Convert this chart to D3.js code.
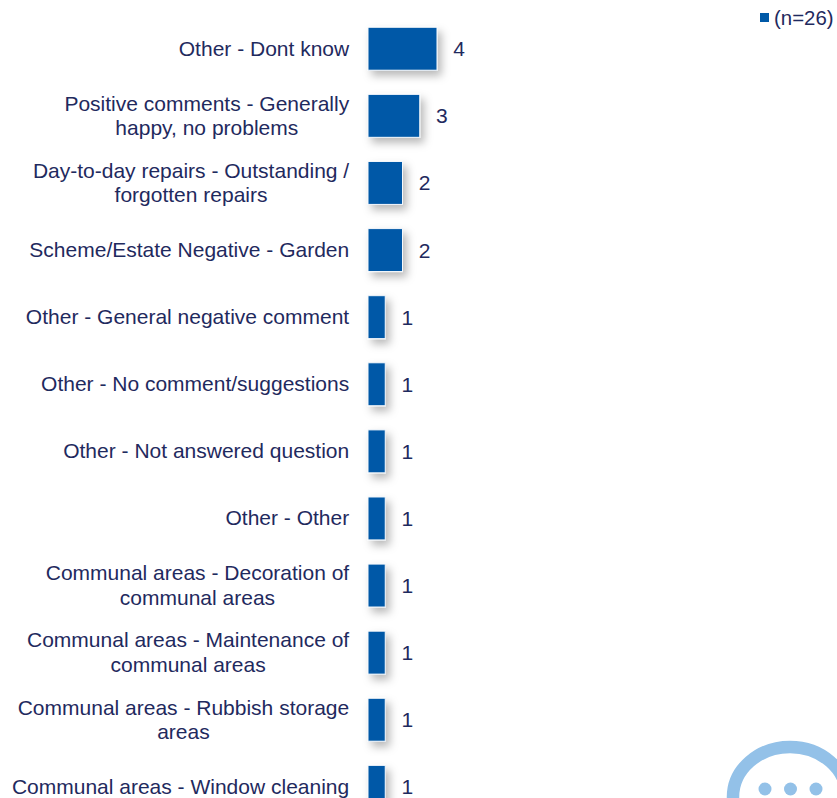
<!DOCTYPE html>
<html>
<head>
<meta charset="utf-8">
<style>
html,body{margin:0;padding:0;background:#fff;overflow:hidden}
svg{display:block}
text{font-family:"Liberation Sans",Arial,sans-serif;font-size:21px;fill:#1f2a5e}
</style>
<script src="https://cdn.jsdelivr.net/npm/d3@7"></script>
</head>
<body>
<svg id="chart" width="837" height="798"></svg>
<script>
const categories = [
  "Other - Dont know",
  "Positive comments - Generally\nhappy, no problems",
  "Day-to-day repairs - Outstanding /\nforgotten repairs",
  "Scheme/Estate Negative - Garden",
  "Other - General negative comment",
  "Other - No comment/suggestions",
  "Other - Not answered question",
  "Other - Other",
  "Communal areas - Decoration of\ncommunal areas",
  "Communal areas - Maintenance of\ncommunal areas",
  "Communal areas - Rubbish storage\nareas",
  "Communal areas - Window cleaning"
];
const values = [4, 3, 2, 2, 1, 1, 1, 1, 1, 1, 1, 1];
const seriesName = "(n=26)";
const iconDots = [0, 1, 2];

const svg = d3.select("#chart");
const defs = svg.append("defs");
const f = defs.append("filter").attr("id", "shadow")
  .attr("x", "-60%").attr("y", "-40%").attr("width", "240%").attr("height", "190%");
f.append("feDropShadow").attr("dx", 4).attr("dy", 5).attr("stdDeviation", 4)
  .attr("flood-color", "#000").attr("flood-opacity", 0.28);

const x = d3.scaleLinear().domain([0, 4]).range([368, 437]);
const y = d3.scaleBand().domain(categories).range([15.2, 820.4]).paddingInner(0.36).paddingOuter(0.18);

// bars
svg.append("g").selectAll("rect").data(categories).join("rect")
  .attr("x", x(0))
  .attr("y", d => y(d))
  .attr("width", (d, i) => x(values[i]) - x(0))
  .attr("height", y.bandwidth())
  .attr("fill", "#0059a7")
  .attr("stroke", "#f4f8fc")
  .attr("stroke-width", 1)
  .attr("filter", "url(#shadow)");

// value labels
svg.append("g").selectAll("text").data(categories).join("text")
  .attr("x", (d, i) => x(values[i]) + 22)
  .attr("y", d => y(d) + y.bandwidth() / 2 + 7.5)
  .attr("text-anchor", "middle")
  .text((d, i) => values[i]);

// category labels: a right-aligned block whose lines are centred on each other
const labelRight = 349.2, lineH = 24.5;
const labels = svg.append("g").selectAll("text").data(categories).join("text")
  .attr("text-anchor", "middle");
labels.each(function (d) {
  const el = d3.select(this);
  const lines = d.split("\n");
  const spans = lines.map((l, i) => el.append("tspan").text(l));
  const w = d3.max(spans, s => s.node().getComputedTextLength());
  const cy = y(d) + y.bandwidth() / 2 + 7;
  spans.forEach((s, i) => s
    .attr("x", labelRight - w / 2)
    .attr("y", cy + (i - (lines.length - 1) / 2) * lineH));
});

// legend
svg.append("rect").attr("x", 760).attr("y", 13).attr("width", 9).attr("height", 9).attr("fill", "#0059a7");
svg.append("text").attr("x", 774).attr("y", 25).style("font-size", "20.4px").text(seriesName);

// speech-bubble icon
const icon = svg.append("g");
icon.append("ellipse").attr("cx", 790).attr("cy", 797).attr("rx", 57).attr("ry", 50)
  .attr("fill", "#fff").attr("stroke", "#93c1e8").attr("stroke-width", 12.5);
icon.selectAll("circle").data(iconDots).join("circle")
  .attr("cx", d => 765 + d * 25.5).attr("cy", 789).attr("r", 6.5).attr("fill", "#93c1e8");
</script>
</body>
</html>
